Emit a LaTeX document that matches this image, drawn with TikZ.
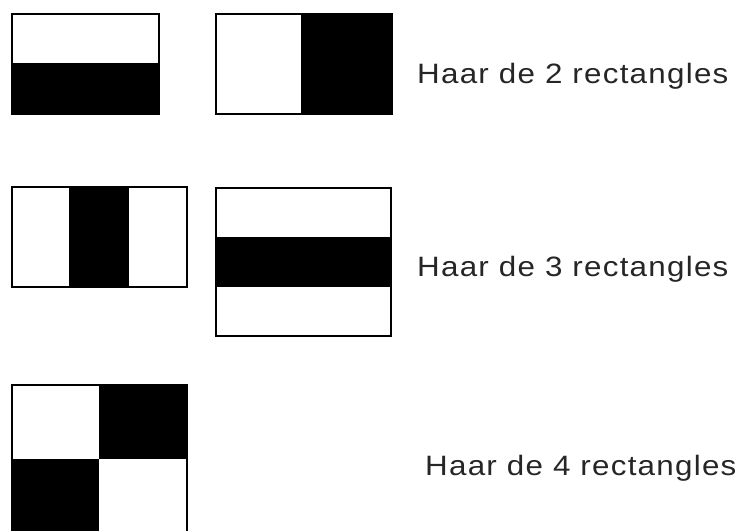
\documentclass[tikz,border=0pt]{standalone}
\usepackage{fontspec}
\setmainfont{Liberation Sans}
\newfontfamily\lblfont[FakeStretch=1.12,LetterSpace=4.5]{Liberation Sans}
\begin{document}
\begin{tikzpicture}[x=1pt,y=-1pt,
  frame/.style={draw=black,line width=2pt},
  blk/.style={fill=black},
  lbl/.style={anchor=base west,inner sep=0pt,font=\lblfont\fontsize{28}{32}\selectfont,text=black!85}]
\useasboundingbox (0,0) rectangle (743,530);
\clip (0,0) rectangle (743,530);
% 2 rectangles
\fill[blk] (12,63) rectangle (159,114);
\draw[frame] (12,14) rectangle (159,114);
\fill[blk] (301,14) rectangle (392,114);
\draw[frame] (216,14) rectangle (392,114);
\node[lbl] (t2) at (417,83) {Haar de 2 rectangles};
% 3 rectangles
\fill[blk] (69,187) rectangle (129,287);
\draw[frame] (12,187) rectangle (187,287);
\fill[blk] (216,237) rectangle (391,287);
\draw[frame] (216,188) rectangle (391,336);
\node[lbl] (t3) at (417,276) {Haar de 3 rectangles};
% 4 rectangles
\fill[blk] (99,385) rectangle (187,459);
\fill[blk] (12,459) rectangle (99,545);
\draw[frame] (12,385) rectangle (187,545);
\node[lbl] (t4) at (425,475) {Haar de 4 rectangles};
\end{tikzpicture}
\end{document}
